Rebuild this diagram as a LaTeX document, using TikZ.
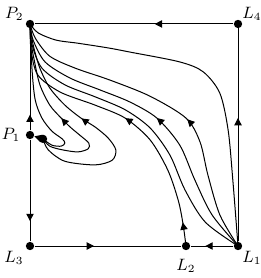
\documentclass[tikz,border=0pt]{standalone}
\usepackage{amsmath,amsfonts,amssymb}
\usepackage{tikz}
\usetikzlibrary{arrows.meta,positioning,decorations.markings}

\begin{document}
\begin{tikzpicture}[
  state/.style={circle, fill, inner sep=0pt, minimum size=0.16cm},
  tag/.style={inner sep=1pt, font=\small},
  orbit/.style={line width=0.55pt},
  flow/.style={postaction={decorate, decoration={markings, mark=at position #1 with {\arrow{>}}}}},
  >={Triangle[length=4pt, width=4pt]}
]
\useasboundingbox (-0.577,-0.615) rectangle (4.442,4.731);

% equilibria
\node[state] (L3) at (0,0) {};
\node[state] (L1) at (4,0) {};
\node[state] (L2) at (3,0) {};
\node[state] (L4) at (4,4.27) {};
\node[state] (P2) at (0,4.27) {};
\node[state] (P1) at (0,2.135) {};
\node[state] (F) at (0.25,2.06) {};

\node[tag, above left=-0.03cm and 0.02cm of P2] (tP2) {$P_2$};
\node[tag, above right=-0.03cm and -0.02cm of L4] (tL4) {$L_4$};
\node[tag, left=0.06cm of P1] (tP1) {$P_1$};
\node[tag, below left=0cm and 0.02cm of L3] (tL3) {$L_3$};
\node[tag, below=0.12cm of L2] (tL2) {$L_2$};
\node[tag, below right=0cm and -0.02cm of L1] (tL1) {$L_1$};

% boundary
\draw[orbit, flow=0.396] (L4) -- (P2);
\draw[orbit, flow=0.58] (L1) -- (L4);
\draw[orbit, flow=0.155] (P1) -- (P2);
\draw[orbit, flow=0.80] (P1) -- (L3);
\draw[orbit, flow=0.405] (L3) -- (L2);
\draw[orbit, flow=0.655] (L1) -- (L2);
\draw[orbit, ->] (F) -- (P1);

% orbits from L1 and L2
\draw[orbit] plot[smooth] coordinates {(L1.center) (3.90,1.27) (3.81,2.23) (3.65,2.94) (3.33,3.35) (2.88,3.54) (1.92,3.73) (1.5,3.81) (0.92,3.90) (0.5,3.96) (0.154,4.10) (P2.center)};
\draw[orbit, flow=0.42] plot[smooth] coordinates {(L1.center) (3.65,0.6) (3.42,1.37) (3.27,2.0) (3.0,2.46) (2.31,2.88) (1.54,3.19) (0.87,3.42) (0.38,3.65) (0.10,4.0) (P2.center)};
\draw[orbit, flow=0.478] plot[smooth] coordinates {(L1.center) (3.5,0.6) (3.17,1.27) (2.88,1.94) (2.44,2.46) (1.92,2.77) (1.35,3.0) (0.77,3.23) (0.29,3.54) (0.06,3.96) (P2.center)};
\draw[orbit] plot[smooth] coordinates {(L1.center) (3.37,0.46) (2.98,1.08) (2.69,1.75) (2.31,2.27) (1.83,2.62) (1.25,2.87) (0.67,3.10) (0.23,3.42) (0.04,3.87) (P2.center)};
\draw[orbit, flow=0.08, flow=0.493] plot[smooth] coordinates {(L2.center) (2.94,0.44) (2.85,0.88) (2.65,1.46) (2.31,2.04) (1.83,2.46) (1.25,2.71) (0.58,2.96) (0.15,3.29) (0.02,3.77) (P2.center)};

% spirals from the focus
\draw[orbit, flow=0.556] plot[smooth] coordinates {(F.center) (0.35,1.85) (0.67,1.63) (1.25,1.56) (1.58,1.65) (1.65,1.85) (1.5,2.08) (1.25,2.29) (0.98,2.46) (0.67,2.71) (0.38,3.04) (0.19,3.42) (0.06,3.87) (P2.center)};
\draw[orbit, flow=0.477] plot[smooth] coordinates {(F.center) (0.38,1.92) (0.62,1.85) (0.92,1.81) (1.12,1.87) (1.13,1.98) (0.96,2.13) (0.77,2.29) (0.6,2.46) (0.38,2.71) (0.19,3.10) (0.08,3.58) (0.02,3.92) (P2.center)};
\draw[orbit] plot[smooth] coordinates {(F.center) (0.42,1.94) (0.6,1.92) (0.67,1.98) (0.62,2.06) (0.42,2.21) (0.23,2.46) (0.1,2.81) (0.04,3.38) (P2.center)};
\end{tikzpicture}
\end{document}
